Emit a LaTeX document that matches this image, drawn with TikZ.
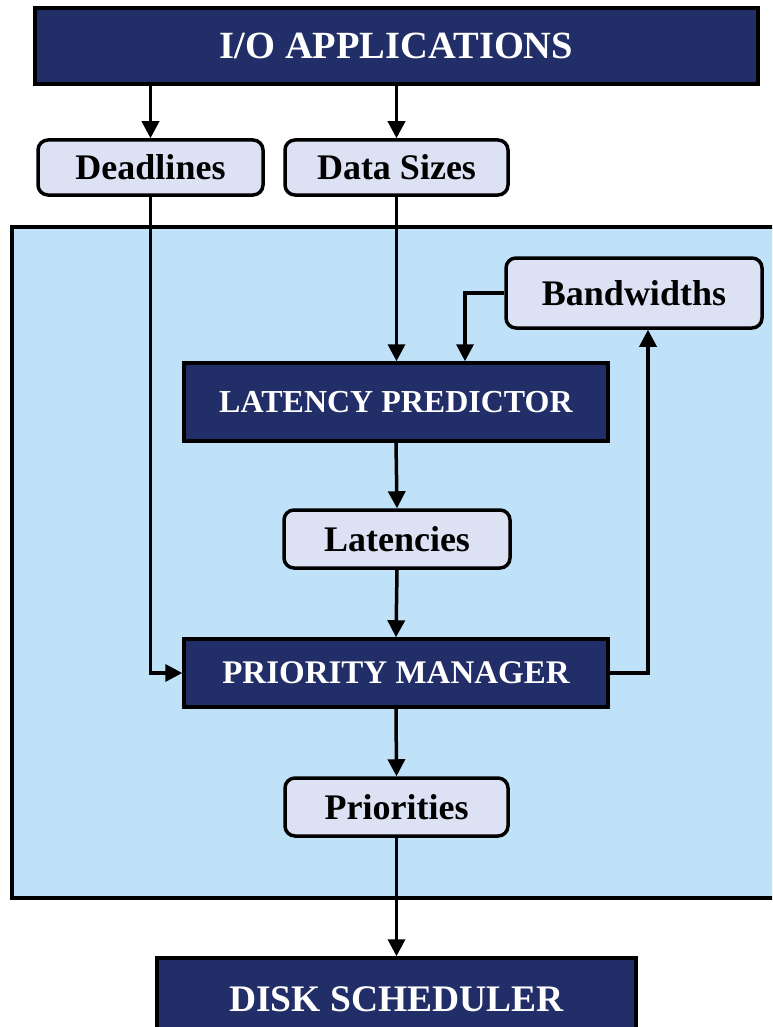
\documentclass[tikz,border=0pt]{standalone}
\usepackage{fontspec}
\setmainfont{Liberation Serif}
\usetikzlibrary{arrows.meta}
\definecolor{navy}{RGB}{34,46,104}
\definecolor{lav}{RGB}{220,225,243}
\definecolor{skyb}{RGB}{191,226,248}
\tikzset{
  bigbox/.style={draw=black, line width=3.5pt, fill=navy, text=white, inner sep=0pt},
  databox/.style={draw=black, line width=3.5pt, fill=lav, rounded corners=10pt, inner sep=0pt, font=\bfseries\fontsize{36}{40}\selectfont},
  arr/.style={line width=3.5pt, -{Triangle[length=17pt,width=17pt]}},
}
\begin{document}
\begin{tikzpicture}[x=1pt,y=-1pt]
\useasboundingbox (0,0) rectangle (772,1027);
\clip (0,0) rectangle (772,1027);
\fill[white] (0,0) rectangle (772,1027);
\draw[line width=3.5pt, fill=skyb] (12,227) rectangle (800,898);

\node[bigbox, minimum width=723pt, minimum height=76pt, font=\bfseries\fontsize{38.5}{44}\selectfont] (io) at (396.5,46) {I/O APPLICATIONS};
\node[databox, minimum width=225pt, minimum height=55pt] (dl) at (150.5,167.5) {Deadlines};
\node[databox, minimum width=223pt, minimum height=55pt] (ds) at (396.5,167.5) {Data Sizes};
\node[databox, minimum width=256pt, minimum height=70pt] (bw) at (634,293) {Bandwidths};
\node[bigbox, minimum width=424pt, minimum height=78pt, font=\bfseries\fontsize{32}{36}\selectfont] (lp) at (396,402) {LATENCY PREDICTOR};
\node[databox, minimum width=226pt, minimum height=58pt] (lat) at (397,539) {Latencies};
\node[bigbox, minimum width=424pt, minimum height=68pt, font=\bfseries\fontsize{33}{38}\selectfont] (pm) at (396,673) {PRIORITY MANAGER};
\node[databox, minimum width=223pt, minimum height=58pt] (pr) at (396.5,807) {Priorities};
\node[bigbox, minimum width=479pt, minimum height=82pt, font=\bfseries\fontsize{37.5}{44}\selectfont] (disk) at (396.5,999) {DISK SCHEDULER};

\path (lp.north) ++(69,0) coordinate (bwin);
\path (bw.south) ++(14,0) coordinate (bwout);

\draw[arr] (io.south -| dl.north) -- (dl.north);
\draw[arr] (io.south -| ds.north) -- (ds.north);
\draw[arr] (dl.south) |- (pm.west);
\draw[arr] (ds.south) -- (ds.south |- lp.north);
\draw[arr] (bw.west) -| (bwin);
\draw[arr] (pm.east) -| (bwout);
\draw[arr] (lp.south) -- (lat.north);
\draw[arr] (lat.south) -- (pm.north);
\draw[arr] (pm.south) -- (pr.north);
\draw[arr] (pr.south) -- (disk.north);
\end{tikzpicture}
\end{document}
